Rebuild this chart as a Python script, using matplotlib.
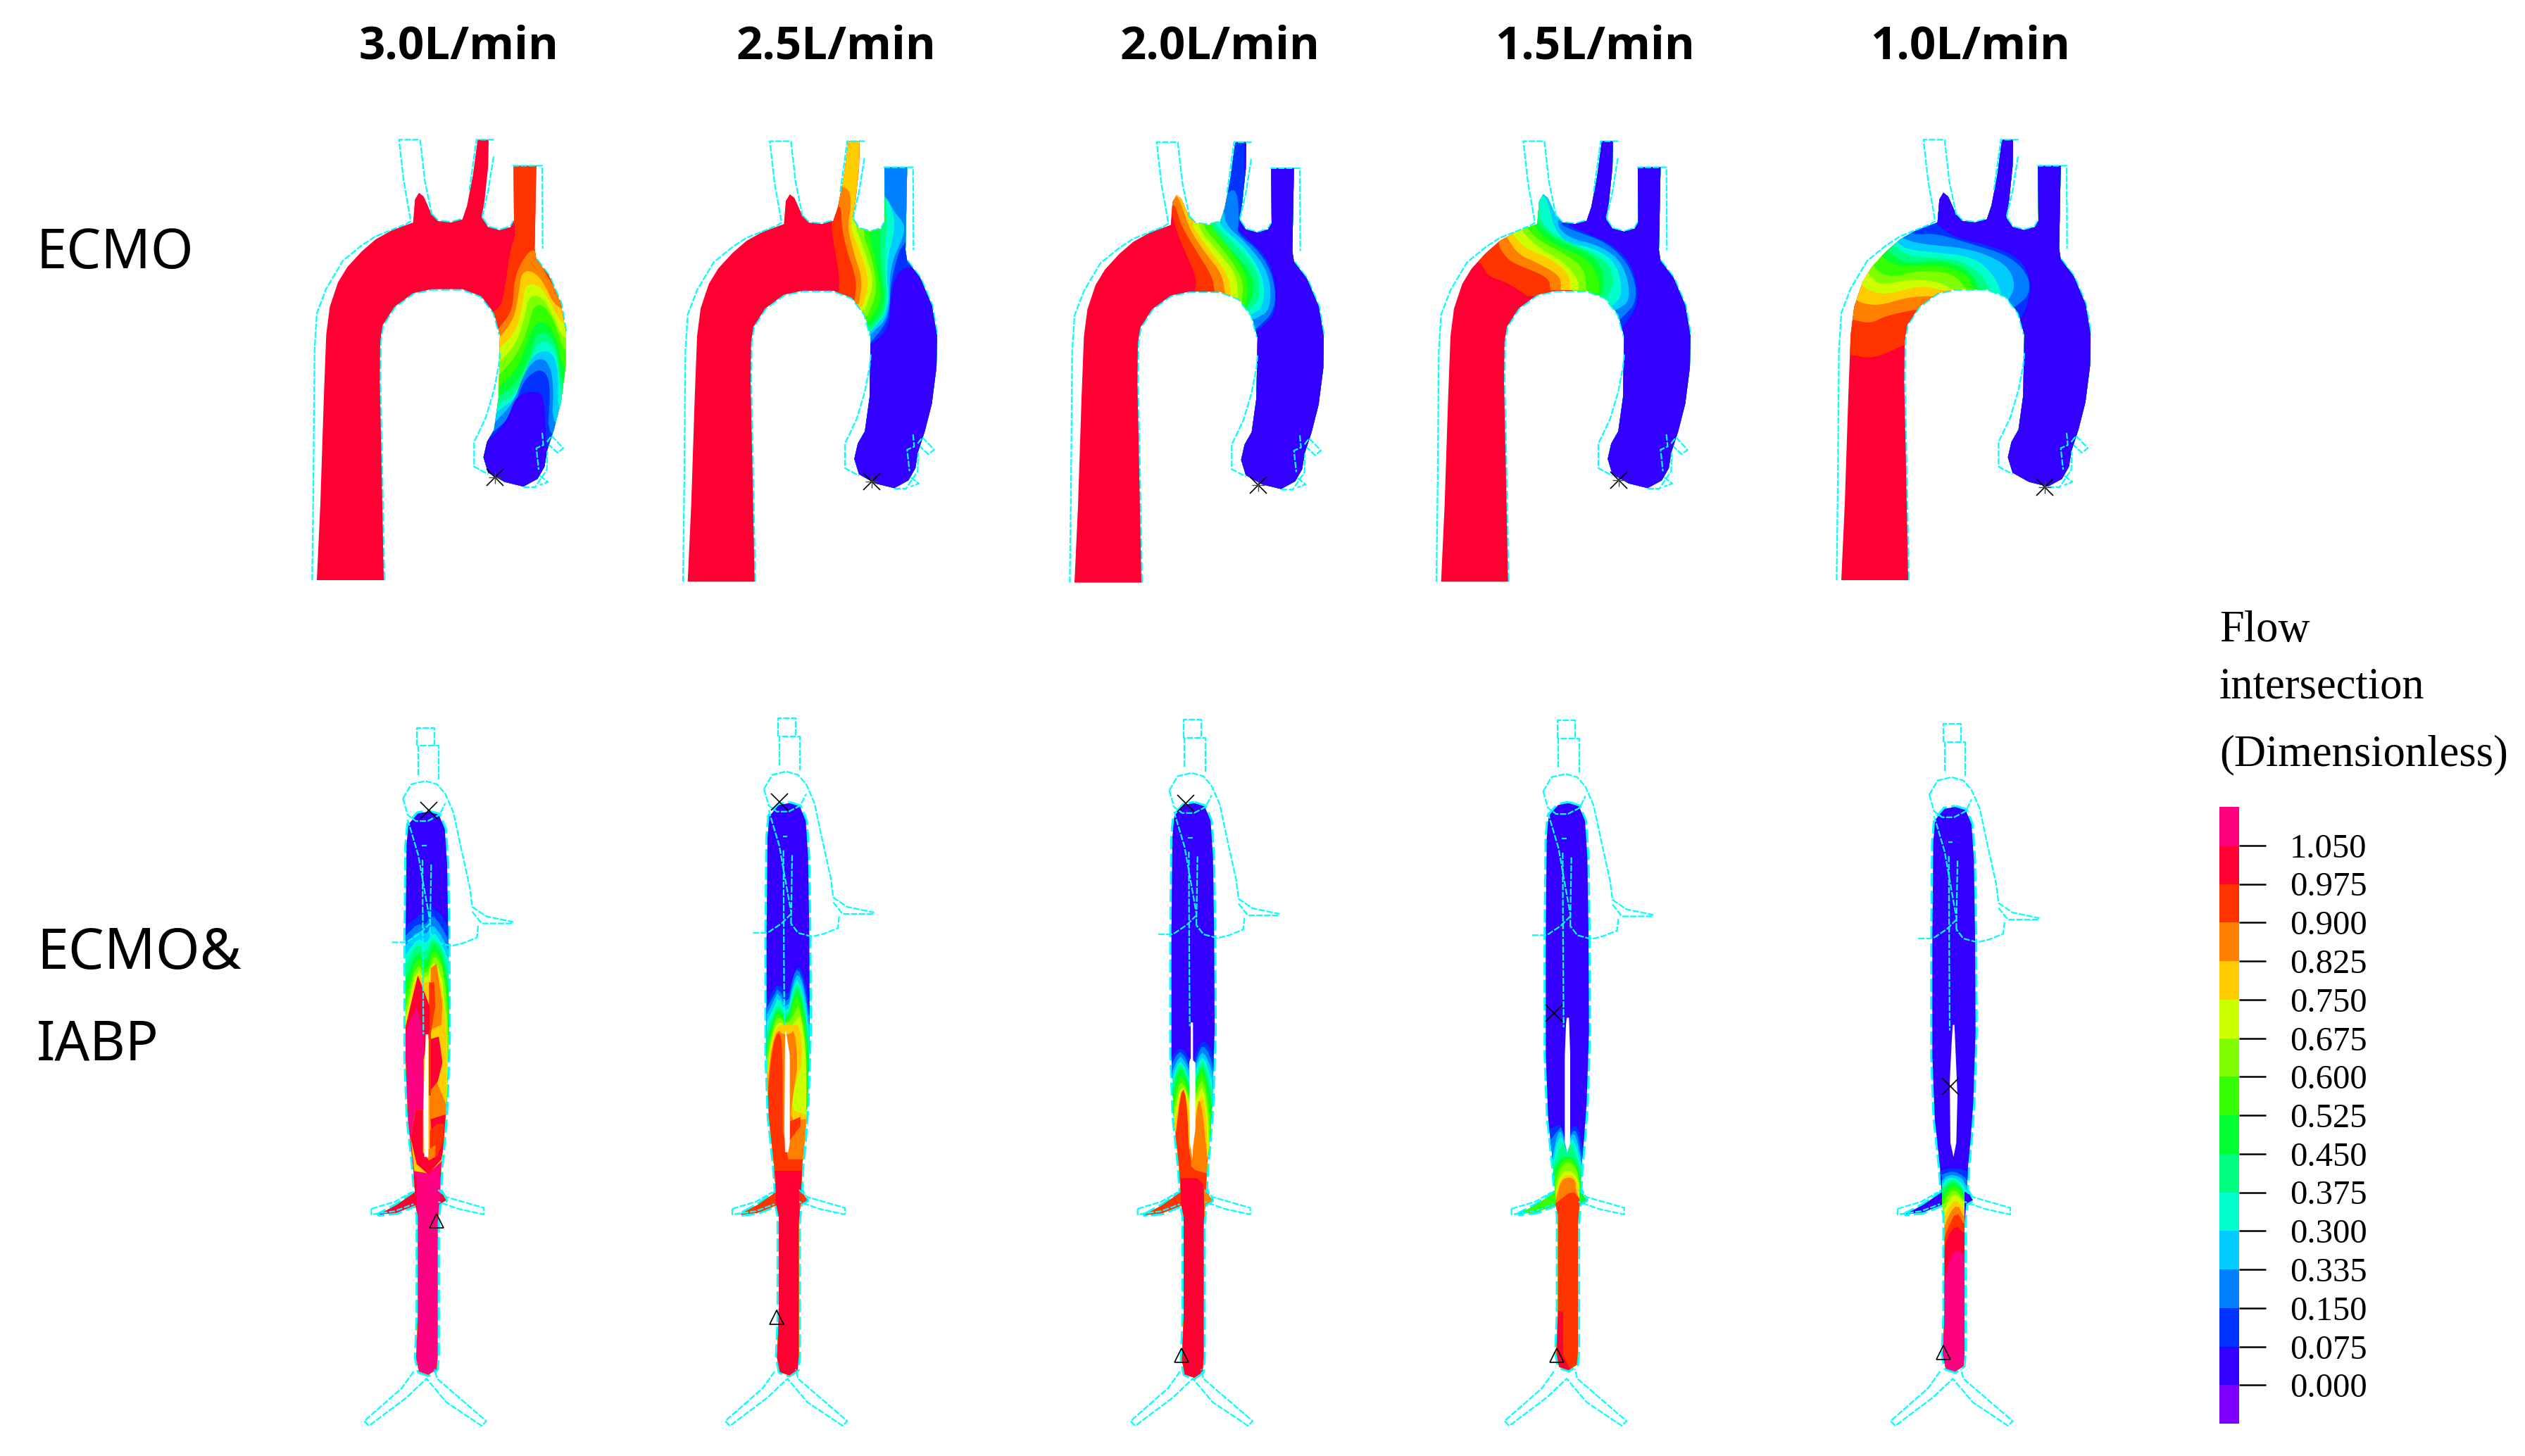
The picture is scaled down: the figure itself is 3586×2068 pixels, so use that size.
"""Flow intersection contours for ECMO and ECMO&IABP at five flow rates.

Contour shapes are traced from the figure, in the coordinates of 3x crops of each
panel, and converted to figure pixels when drawn.
"""
import matplotlib
matplotlib.use("Agg")
import matplotlib.pyplot as plt
import numpy as np
from matplotlib.colors import ListedColormap
from matplotlib.patches import Polygon

W, H = 3587, 2068
CYAN = "#00ffff"

FLOWS = ["3.0L/min", "2.5L/min", "2.0L/min", "1.5L/min", "1.0L/min"]
FLOW_X = [652, 1187, 1732, 2265, 2798]

BAND_COLORS = ["#ff0080", "#ff0033", "#ff3300", "#ff8000", "#ffcc00", "#ccff00",
               "#80ff00", "#33ff00", "#00ff33", "#00ff80", "#00ffcc", "#00ccff",
               "#0080ff", "#0033ff", "#3300ff", "#8000ff"]
LEVEL_VALUES = [1.05, 0.975, 0.9, 0.825, 0.75, 0.675, 0.6, 0.525, 0.45, 0.375, 0.3,
                0.225, 0.15, 0.075, 0.0]
LEVEL_LABELS = ["1.050", "0.975", "0.900", "0.825", "0.750", "0.675", "0.600", "0.525",
                "0.450", "0.375", "0.300", "0.335", "0.150", "0.075", "0.000"]

# ---- ECMO row ----
ARCH_CROP_X = [400, 930, 1480, 2000, 2560]
ARCH_DX = [0, -10, -12, -10, 15]
ARCH_DY = [0, 5, 8, 5, 0]

AORTA = [(150, 1500), (165, 1250), (180, 900), (190, 700), (205, 610), (240, 530), (280, 480),
         (340, 430), (400, 390), (470, 360), (560, 335), (568, 260), (585, 238), (605, 250),
         (640, 310), (665, 330), (720, 335), (770, 325), (790, 280), (815, 180), (835, 65),
         (882, 65), (880, 150), (865, 260), (853, 320), (880, 350), (930, 360), (975, 350),
         (990, 330), (988, 150), (1085, 150), (1078, 420), (1085, 455), (1140, 510), (1190, 600),
         (1212, 700), (1210, 800), (1190, 920), (1160, 1010), (1130, 1080), (1120, 1130),
         (1090, 1170), (1030, 1195), (950, 1180), (880, 1150), (860, 1100), (875, 1050),
         (905, 1010), (925, 900), (930, 700), (905, 630), (850, 575), (770, 552), (640, 552),
         (560, 565), (480, 610), (430, 670), (420, 720), (418, 850), (425, 1100), (435, 1500)]

ARCH_WIRES = [
    [(130, 1500), (135, 1200), (140, 750), (150, 630), (190, 550), (260, 460), (340, 410),
     (400, 380), (530, 340), (550, 330), (520, 200), (500, 65), (590, 65), (610, 200), (640, 310)],
    [(800, 230), (830, 65), (905, 65)],
    [(903, 120), (880, 230), (853, 320)],
    [(985, 150), (1110, 150), (1112, 420)],
    [(930, 760), (925, 800), (905, 880), (870, 970), (820, 1050), (820, 1130), (880, 1155)],
    [(1030, 1197), (1080, 1197), (1130, 1140), (1132, 1080)],
    [(1130, 1050), (1150, 1030), (1200, 1070), (1175, 1085), (1140, 1060)],
    [(1110, 1020), (1115, 1060), (1085, 1070), (1095, 1140)],
    [(1100, 1160), (1135, 1180), (1100, 1190)],
]
# cyan that only shows as a thin edge beside the filled vessel
ARCH_RIMS = [
    [(435, 1500), (425, 1100), (418, 850), (420, 720), (430, 670), (480, 610), (560, 565), (640, 552),
     (770, 552), (850, 575), (905, 630), (930, 700)],
    [(640, 310), (665, 330), (720, 335), (770, 325)],
    [(853, 320), (880, 350), (930, 360), (975, 350), (990, 330)],
    [(1085, 455), (1140, 510), (1190, 600), (1212, 700)],
]

# (band index, front from the inner wall to the outer wall); everything downstream takes the band
ECMO_FRONTS_30 = [
    (2, [(905, 625), (940, 600), (960, 500), (975, 420), (1000, 370), (980, 300), (975, 100)]),
    (3, [(925, 680), (985, 620), (990, 520), (1030, 450), (1078, 415), (1100, 470), (1180, 570), (1300, 575)]),
    (4, [(928, 710), (990, 650), (1012, 560), (1020, 500), (1060, 490), (1110, 520), (1170, 620), (1300, 630)]),
    (5, [(928, 745), (1000, 690), (1030, 590), (1035, 540), (1085, 535), (1130, 570), (1190, 670), (1300, 680)]),
    (6, [(928, 790), (1000, 730), (1040, 630), (1050, 580), (1095, 570), (1140, 610), (1200, 720), (1300, 730)]),
    (7, [(928, 830), (1000, 770), (1050, 680), (1070, 610), (1110, 600), (1160, 650), (1210, 770), (1300, 780)]),
    (8, [(928, 870), (1000, 820), (1050, 720), (1080, 660), (1130, 660), (1170, 710), (1205, 830), (1300, 840)]),
    (9, [(928, 900), (1000, 860), (1060, 770), (1080, 700), (1130, 690), (1175, 740), (1195, 880), (1300, 890)]),
    (10, [(925, 925), (1000, 890), (1060, 790), (1085, 730), (1140, 720), (1175, 770), (1190, 920), (1300, 930)]),
    (11, [(920, 950), (1010, 900), (1040, 810), (1080, 760), (1150, 750), (1180, 820), (1175, 970), (1300, 980)]),
    (12, [(910, 985), (990, 920), (1030, 830), (1080, 780), (1130, 780), (1160, 850), (1150, 1010), (1300, 1020)]),
    (13, [(905, 1015), (990, 960), (1020, 860), (1090, 810), (1135, 830), (1145, 900), (1130, 1040), (1300, 1060)]),
    (14, [(895, 1035), (960, 980), (1000, 900), (1060, 885), (1115, 890), (1125, 1000), (1125, 1090), (1300, 1100)]),
]
ECMO_FRONTS_25 = [
    (2, [(785, 560), (785, 500), (765, 420), (752, 340), (740, 200)]),
    (3, [(850, 590), (862, 525), (815, 420), (795, 340), (795, 290), (780, 280), (740, 270), (740, 100)]),
    (4, [(870, 600), (885, 520), (850, 440), (820, 350), (835, 290), (833, 235), (800, 215), (740, 215), (740, 100)]),
    (5, [(885, 610), (915, 530), (880, 440), (830, 345), (850, 300), (900, 300)]),
    (6, [(895, 620), (935, 530), (900, 440), (860, 360), (855, 330), (900, 300)]),
    (7, [(905, 640), (950, 560), (925, 450), (885, 370), (900, 300)]),
    (8, [(915, 655), (970, 590), (945, 470), (910, 370), (920, 300)]),
    (9, [(920, 670), (985, 610), (960, 470), (960, 365), (960, 300)]),
    (10, [(920, 685), (995, 620), (975, 430), (990, 350), (985, 300)]),
    (11, [(920, 690), (1000, 620), (985, 470), (1020, 370), (1020, 310), (985, 250), (960, 260)]),
    (12, [(920, 700), (1000, 640), (1000, 480), (1060, 380), (1065, 340), (1020, 300), (985, 250), (960, 240)]),
    (13, [(920, 725), (960, 690), (1000, 640), (1005, 520), (1065, 370), (1300, 370)]),
    (14, [(925, 730), (1000, 680), (1005, 560), (1040, 490), (1085, 480), (1300, 480)]),
]
ECMO_FRONTS_20 = [
    (2, [(650, 558), (660, 520), (610, 430), (570, 360), (555, 305), (530, 300)]),
    (3, [(735, 560), (725, 510), (650, 420), (590, 340), (570, 285), (555, 275), (530, 275)]),
    (4, [(780, 565), (765, 500), (700, 440), (630, 360), (600, 290), (575, 245), (530, 240)]),
    (5, [(805, 575), (795, 510), (730, 440), (660, 370), (635, 335), (680, 300)]),
    (6, [(835, 590), (830, 505), (750, 430), (660, 350), (680, 300)]),
    (7, [(850, 600), (860, 520), (770, 420), (680, 345), (700, 300)]),
    (8, [(865, 605), (885, 530), (820, 440), (720, 350), (720, 300)]),
    (9, [(870, 610), (905, 570), (895, 500), (800, 420), (710, 340), (720, 300)]),
    (10, [(880, 620), (925, 590), (925, 500), (840, 420), (730, 340), (740, 300)]),
    (11, [(890, 635), (945, 610), (945, 510), (860, 410), (760, 350), (745, 300)]),
    (12, [(905, 650), (975, 620), (970, 500), (870, 400), (790, 350), (770, 300), (765, 100)]),
    (13, [(915, 680), (995, 620), (990, 520), (930, 430), (830, 370), (838, 340), (835, 250), (815, 225),
          (790, 240), (765, 240)]),
    (14, [(915, 690), (1000, 630), (990, 510), (950, 440), (870, 385), (835, 360), (840, 340), (855, 260), (862, 200)]),
]
ECMO_FRONTS_15 = [
    (2, [(510, 575), (420, 530), (340, 510), (320, 480), (300, 465), (280, 440)]),
    (3, [(605, 555), (600, 515), (490, 480), (430, 460), (390, 420), (385, 395), (370, 370)]),
    (4, [(650, 555), (650, 510), (560, 470), (470, 440), (420, 385), (405, 350)]),
    (5, [(690, 555), (685, 500), (600, 450), (500, 420), (450, 380), (430, 350)]),
    (6, [(725, 555), (725, 520), (660, 460), (560, 420), (490, 370), (470, 330)]),
    (7, [(760, 557), (750, 480), (650, 430), (570, 400), (510, 360), (500, 330)]),
    (8, [(815, 565), (810, 500), (740, 440), (640, 415), (560, 370), (530, 335), (520, 320)]),
    (9, [(825, 570), (840, 510), (790, 440), (650, 400), (580, 360), (550, 330), (540, 320)]),
    (10, [(845, 580), (880, 530), (850, 460), (720, 410), (610, 370), (565, 330), (555, 300)]),
    (11, [(870, 605), (915, 570), (890, 470), (800, 420), (670, 400), (620, 350), (600, 280), (580, 245), (540, 240)]),
    (12, [(885, 620), (950, 590), (920, 470), (820, 410), (680, 385), (625, 335), (680, 300)]),
    (13, [(905, 650), (980, 590), (950, 480), (850, 400), (700, 360), (640, 338), (690, 300)]),
    (14, [(910, 680), (985, 600), (960, 480), (880, 410), (760, 370), (670, 340), (700, 300)]),
]
ECMO_FRONTS_10 = [
    (2, [(430, 735), (300, 780), (200, 765), (150, 765)]),
    (3, [(470, 620), (350, 640), (290, 665), (210, 650), (170, 650)]),
    (4, [(520, 575), (440, 580), (330, 605), (260, 600), (225, 585), (190, 585)]),
    (5, [(590, 555), (500, 540), (360, 570), (290, 560), (250, 535), (220, 530)]),
    (6, [(640, 553), (570, 525), (450, 520), (330, 540), (290, 510), (270, 490)]),
    (7, [(700, 553), (640, 500), (500, 490), (380, 515), (310, 490), (300, 465)]),
    (8, [(730, 555), (700, 500), (570, 470), (400, 480), (330, 440), (310, 430)]),
    (9, [(755, 555), (720, 495), (600, 455), (450, 470), (380, 440), (350, 410)]),
    (10, [(800, 557), (760, 500), (650, 450), (480, 450), (400, 420), (370, 400)]),
    (11, [(850, 575), (820, 510), (730, 445), (530, 430), (430, 420), (390, 385)]),
    (12, [(875, 590), (910, 540), (870, 470), (720, 420), (500, 405), (420, 385), (410, 370)]),
    (13, [(905, 610), (970, 570), (960, 500), (870, 440), (720, 405), (570, 370), (470, 375), (450, 360)]),
    (14, [(930, 650), (960, 600), (975, 530), (930, 450), (800, 410), (650, 385), (570, 340), (520, 300)]),
]
ECMO_FRONTS = [ECMO_FRONTS_30, ECMO_FRONTS_25, ECMO_FRONTS_20, ECMO_FRONTS_15, ECMO_FRONTS_10]
ECMO_STARS = [(910, 1165), (925, 1180), (922, 1190), (898, 1175), (1033, 1197)]

# ---- ECMO&IABP row ----
IABP_CROP_X = [480, 990, 1565, 2100, 2645]
IABP_DX = [0, 8, 8, -2, 10]
IABP_TOP = [228, 210, 210, 210, 218]
IABP_BOTTOM = [1422, 1423, 1428, 1412, 1415]

BODY = [(385, 228), (430, 235), (455, 265), (465, 340), (470, 500), (472, 700), (462, 850), (450, 930),
        (440, 980), (435, 1030), (460, 1052), (432, 1060), (425, 1100), (425, 1380), (420, 1410),
        (385, 1422), (345, 1415), (333, 1385), (340, 1300), (340, 1085), (330, 1062), (250, 1078),
        (175, 1082), (250, 1062), (328, 1035), (320, 980), (298, 880), (288, 750), (288, 500),
        (292, 300), (300, 255), (340, 232)]

IABP_WIRES = [
    [(345, 68), (345, 30), (420, 30), (420, 68)],
    [(350, 130), (350, 68), (438, 68), (438, 140)],
    [(285, 180), (320, 150), (380, 143), (430, 150), (465, 170), (500, 210), (530, 280), (570, 370),
     (580, 410), (640, 430), (755, 442)],
    [(285, 180), (305, 215), (340, 228), (390, 228), (440, 215), (465, 190)],
    [(580, 420), (620, 445), (700, 445), (750, 445)],
    [(605, 450), (600, 475), (540, 487), (490, 493), (430, 485), (400, 465)],
    [(238, 485), (300, 485), (360, 465), (400, 445)],
    [(368, 310), (370, 540), (372, 680)],
    [(405, 320), (400, 470)],
    [(305, 225), (350, 300), (400, 440)],
    [(365, 280), (385, 280)],
]
IABP_WIRE_DX = [-8, 0, 2, -10, 0]
IABP_WIRE_DY = [20, 0, 3, 5, 12]
LEG_WIRES = [
    [(150, 1070), (250, 1055), (320, 1035)],
    [(150, 1070), (150, 1082), (250, 1075), (330, 1060)],
    [(435, 1030), (470, 1045), (630, 1068), (630, 1082), (520, 1070), (435, 1055)],
    [(330, 1415), (280, 1450), (120, 1520), (140, 1530), (300, 1470), (385, 1430), (470, 1480),
     (620, 1530), (640, 1520), (430, 1430), (420, 1410)],
]
IABP_SLITS = [
    [(374, 700), (385, 700), (385, 960), (368, 960), (364, 850), (368, 780)],
    [(378, 690), (395, 745), (395, 930), (388, 950), (375, 950), (372, 900), (375, 700)],
    [(378, 675), (388, 675), (388, 755), (398, 760), (398, 900), (388, 940), (385, 965), (375, 930),
     (372, 760), (378, 750)],
    [(375, 665), (385, 665), (390, 745), (390, 930), (378, 950), (367, 930), (367, 745), (372, 680)],
    [(385, 680), (392, 680), (405, 830), (400, 930), (388, 960), (375, 930), (372, 800), (380, 720)],
]

# (band index, front from left to right); everything below it takes the band
IABP_FRONTS_30 = [
    (13, [(290, 470), (340, 450), (385, 430), (430, 440), (470, 470)]),
    (12, [(290, 490), (340, 465), (370, 470), (400, 445), (440, 470), (470, 500)]),
    (11, [(290, 510), (340, 480), (375, 490), (400, 465), (440, 490), (470, 520)]),
    (10, [(290, 530), (340, 495), (375, 510), (405, 480), (445, 510), (470, 540)]),
    (9, [(290, 550), (340, 505), (375, 530), (405, 490), (445, 520), (470, 560)]),
    (8, [(290, 580), (340, 520), (375, 550), (405, 500), (445, 530), (470, 600)]),
    (7, [(290, 610), (340, 530), (375, 570), (405, 515), (450, 550), (470, 640)]),
    (6, [(290, 640), (335, 545), (375, 580), (410, 525), (455, 570), (470, 700)]),
    (5, [(290, 660), (335, 555), (375, 590), (410, 535), (455, 600), (475, 850)]),
    (4, [(290, 680), (335, 565), (385, 600), (415, 540), (450, 620), (465, 720), (460, 860)]),
]
IABP_PATCHES_30 = [
    (3, [(395, 560), (420, 550), (445, 640), (440, 680), (395, 690)]),
    (2, [(388, 590), (410, 590), (415, 640), (395, 700), (388, 700)]),
    (1, [(285, 690), (340, 575), (390, 640), (390, 700), (360, 760), (285, 760)]),
    (0, [(285, 700), (335, 640), (365, 700), (365, 860), (330, 860), (310, 920), (325, 990), (385, 995),
         (440, 970), (480, 960), (480, 1500), (200, 1500), (200, 1000), (280, 900)]),
    (3, [(390, 820), (420, 800), (462, 850), (455, 900), (400, 960), (390, 960)]),
    (1, [(330, 860), (362, 860), (362, 950), (385, 965), (400, 930), (395, 880), (460, 870), (455, 930),
         (440, 965), (385, 997), (335, 975), (310, 920)]),
    (2, [(392, 905), (420, 890), (452, 890), (448, 930), (420, 960), (392, 940)]),
    (3, [(385, 945), (415, 935), (415, 960), (385, 968)]),
    (1, [(395, 710), (430, 705), (445, 760), (425, 800), (392, 820)]),
    (2, [(388, 700), (396, 700), (396, 830), (388, 830)]),
    (1, [(100, 1000), (335, 1000), (335, 1100), (100, 1100)]),
    (1, [(434, 1038), (600, 1038), (600, 1100), (434, 1100)]),
]
IABP_FRONTS_25 = [
    (13, [(290, 640), (320, 610), (345, 590), (385, 620), (400, 590), (430, 550), (460, 580), (478, 640)]),
    (12, [(290, 650), (325, 620), (345, 600), (385, 640), (410, 575), (430, 560), (455, 590), (478, 660)]),
    (11, [(290, 665), (330, 625), (345, 610), (385, 650), (410, 590), (430, 570), (455, 600), (478, 680)]),
    (10, [(290, 680), (330, 640), (345, 620), (385, 660), (410, 600), (430, 580), (460, 630), (478, 710)]),
    (9, [(290, 700), (325, 660), (345, 635), (385, 665), (410, 610), (430, 590), (460, 640), (478, 730)]),
    (8, [(290, 725), (325, 665), (345, 645), (385, 670), (412, 620), (430, 600), (460, 660), (478, 760)]),
    (7, [(290, 745), (322, 680), (345, 650), (385, 680), (412, 630), (430, 615), (465, 690), (470, 800), (475, 870)]),
    (6, [(295, 760), (320, 690), (345, 660), (385, 680), (415, 655), (435, 635), (465, 730), (465, 800), (465, 860)]),
    (5, [(295, 785), (318, 705), (345, 670), (395, 690), (420, 670), (445, 660), (465, 750), (465, 860)]),
    (4, [(298, 790), (320, 710), (345, 680), (395, 680), (440, 680), (450, 760), (420, 800), (400, 860), (460, 870)]),
    (3, [(300, 805), (320, 720), (345, 690), (365, 700), (395, 700), (415, 690), (430, 760), (410, 825), (395, 885), (460, 880)]),
    (2, [(300, 830), (320, 730), (345, 690), (365, 720), (365, 965), (460, 965)]),
    (1, [(300, 990), (460, 990)]),
]
IABP_PATCHES_25 = [
    (2, [(395, 885), (440, 875), (440, 895), (395, 925)]),
    (2, [(100, 1000), (335, 1000), (335, 1100), (100, 1100)]),
    (2, [(434, 1035), (600, 1035), (600, 1100), (434, 1100)]),
]
IABP_FRONTS_20 = [
    (13, [(292, 755), (315, 735), (340, 728), (365, 745), (385, 760), (410, 730), (430, 712), (460, 725), (482, 760)]),
    (12, [(292, 770), (315, 745), (340, 735), (385, 780), (410, 740), (430, 722), (462, 745), (482, 790)]),
    (11, [(295, 785), (320, 755), (340, 745), (385, 790), (410, 750), (432, 735), (465, 770), (480, 805)]),
    (10, [(297, 800), (320, 765), (340, 755), (385, 810), (410, 760), (432, 745), (465, 790), (478, 825)]),
    (9, [(298, 815), (320, 770), (340, 762), (385, 820), (410, 770), (432, 755), (465, 810), (475, 850)]),
    (8, [(300, 830), (322, 780), (342, 770), (385, 830), (410, 780), (432, 765), (462, 830), (472, 870)]),
    (7, [(302, 845), (322, 800), (342, 785), (385, 840), (410, 790), (432, 775), (460, 850), (465, 890)]),
    (6, [(305, 860), (325, 810), (345, 800), (385, 850), (410, 810), (432, 795), (455, 860), (460, 910)]),
    (5, [(308, 875), (328, 820), (350, 810), (385, 860), (410, 825), (432, 810), (452, 880), (455, 930)]),
    (4, [(312, 885), (332, 825), (352, 815), (385, 900), (405, 850), (430, 825), (445, 880), (450, 950)]),
    (3, [(315, 905), (335, 830), (352, 815), (365, 900), (375, 960), (405, 860), (415, 835), (430, 870), (440, 920), (448, 960)]),
    (2, [(315, 910), (335, 825), (352, 815), (365, 870), (370, 950), (380, 965), (380, 985), (445, 995)]),
    (1, [(335, 1005), (430, 1005), (435, 1060)]),
]
IABP_PATCHES_20 = [
    (2, [(100, 1000), (335, 1000), (335, 1100), (100, 1100)]),
    (3, [(436, 1030), (600, 1030), (600, 1100), (436, 1100)]),
]
IABP_FRONTS_15 = [
    (13, [(300, 900), (330, 895), (350, 890), (375, 935), (395, 895), (425, 895), (445, 945)]),
    (12, [(305, 925), (335, 905), (355, 895), (375, 945), (395, 905), (420, 905), (440, 960)]),
    (11, [(315, 960), (335, 910), (355, 905), (375, 950), (395, 910), (415, 915), (438, 970)]),
    (10, [(320, 965), (335, 925), (355, 915), (375, 955), (395, 920), (412, 930), (435, 975)]),
    (9, [(322, 975), (345, 945), (360, 925), (375, 958), (390, 930), (405, 945), (432, 980)]),
    (8, [(325, 985), (345, 965), (375, 958), (410, 965), (435, 1000)]),
    (7, [(325, 1000), (345, 975), (380, 960), (415, 975), (435, 1020)]),
    (6, [(328, 1015), (345, 985), (380, 968), (420, 985), (432, 1030)]),
    (5, [(330, 1030), (345, 1000), (380, 985), (425, 1005), (430, 1040)]),
    (4, [(330, 1040), (345, 1010), (385, 995), (420, 1010), (425, 1045)]),
    (3, [(330, 1050), (350, 1010), (385, 1002), (413, 1010), (413, 1030), (430, 1050)]),
    (2, [(330, 1058), (400, 1030), (430, 1050)]),
]
IABP_PATCHES_15 = [
    (1, [(335, 1285), (360, 1290), (360, 1380), (390, 1412), (335, 1412)]),
    (7, [(100, 1000), (328, 1000), (328, 1100), (100, 1100)]),
    (8, [(430, 1030), (600, 1030), (600, 1100), (430, 1100)]),
]
IABP_FRONTS_10 = [
    (13, [(330, 990), (360, 985), (390, 985), (425, 985), (445, 990)]),
    (12, [(330, 1000), (350, 995), (390, 990), (430, 1000), (445, 1010)]),
    (11, [(340, 1010), (360, 1000), (390, 998), (425, 1005), (440, 1020)]),
    (10, [(340, 1020), (360, 1005), (390, 1003), (425, 1015), (440, 1030)]),
    (9, [(343, 1025), (370, 1010), (395, 1008), (420, 1020), (435, 1040)]),
    (8, [(345, 1035), (370, 1015), (400, 1015), (425, 1030), (435, 1045)]),
    (7, [(345, 1045), (370, 1025), (400, 1020), (428, 1040), (435, 1050)]),
    (6, [(345, 1060), (370, 1035), (400, 1030), (428, 1050)]),
    (5, [(345, 1075), (375, 1045), (400, 1038), (430, 1055)]),
    (4, [(345, 1090), (375, 1060), (400, 1050), (430, 1070)]),
    (3, [(345, 1115), (370, 1080), (405, 1060), (430, 1085)]),
    (2, [(345, 1140), (360, 1115), (400, 1075), (430, 1100)]),
    (1, [(345, 1170), (360, 1130), (400, 1105), (430, 1120)]),
    (0, [(345, 1240), (360, 1200), (390, 1155), (430, 1165)]),
]
IABP_PATCHES_10 = [
    (14, [(100, 1000), (338, 1000), (338, 1100), (100, 1100)]),
    (14, [(436, 1035), (600, 1035), (600, 1100), (436, 1100)]),
]
IABP_FRONTS = [IABP_FRONTS_30, IABP_FRONTS_25, IABP_FRONTS_20, IABP_FRONTS_15, IABP_FRONTS_10]
IABP_PATCHES = [IABP_PATCHES_30, IABP_PATCHES_25, IABP_PATCHES_20, IABP_PATCHES_15, IABP_PATCHES_10]
IABP_STARS = [(388, 225), (350, 208), (358, 210), (320, 655), (375, 810)]
IABP_TRIANGLES = [(420, 1095), (340, 1300), (340, 1380), (333, 1380), (345, 1375)]


def arch_px(pts, crop_x, dx=0, dy=0):
    a = np.asarray(pts, dtype=float)
    return np.column_stack([crop_x + (a[:, 0] + dx) / 3, 170 + (a[:, 1] + dy) * 0.436])


def iabp_px(pts, crop_x, dx=0, dy=0):
    a = np.asarray(pts, dtype=float)
    return np.column_stack([crop_x + (a[:, 0] + dx) / 3, 1000 + (a[:, 1] + dy) * 0.67])


def smooth(pts, rounds=2):
    """Corner cutting, so the traced fronts read as contours and not as polylines."""
    a = np.asarray(pts, dtype=float)
    for _ in range(rounds):
        q = 0.75 * a[:-1] + 0.25 * a[1:]
        r = 0.25 * a[:-1] + 0.75 * a[1:]
        a = np.vstack([a[:1], np.column_stack([q, r]).reshape(-1, 2), a[-1:]])
    return a


def downstream(front):
    x0, y0 = front[0]
    xl, yl = front[-1]
    if xl > 1000:
        tail = [(1600, yl), (1600, 1700), (700, 1700), (700, y0)]
    else:
        tail = [(xl, -100), (1600, -100), (1600, 1700), (700, 1700), (700, y0)]
    return np.vstack([smooth(front), tail])


def below(front):
    return np.vstack([[(200, front[0][1])], smooth(front, 1),
                      [(600, front[-1][1]), (600, 1500), (200, 1500)]])


def draw_wire(ax, xy):
    ax.plot(xy[:, 0], xy[:, 1], color=CYAN, lw=1.6, ls=(0, (4, 1)), zorder=4)


def draw_rim(ax, xy, lw):
    ax.plot(xy[:, 0], xy[:, 1], color=CYAN, lw=lw, ls=(0, (3, 1)), zorder=1)


def draw_vessel(ax, outline, base):
    body = Polygon(outline, closed=True, fc=BAND_COLORS[base], ec="none", zorder=2)
    ax.add_patch(body)
    return body


def draw_band(ax, xy, band, clip):
    p = Polygon(xy, closed=True, fc=BAND_COLORS[band], ec="none", zorder=3)
    ax.add_patch(p)
    p.set_clip_path(clip)


fig = plt.figure(figsize=(W / 100, H / 100), dpi=100)
ax = fig.add_axes([0, 0, 1, 1])
ax.set_xlim(0, W)
ax.set_ylim(H, 0)
ax.axis("off")

for i, label in enumerate(FLOWS):
    ax.text(FLOW_X[i], 67, label, ha="center", va="center", fontsize=47, fontweight="bold",
            family="Open Sans")
ax.text(52, 361, "ECMO", ha="left", va="center", fontsize=56, family="Noto Sans")
ax.text(52, 1355, "ECMO&", ha="left", va="center", fontsize=58, family="Noto Sans")
ax.text(52, 1485, "IABP", ha="left", va="center", fontsize=56, family="Noto Sans")

for i in range(5):
    cx, dx, dy = ARCH_CROP_X[i], ARCH_DX[i], ARCH_DY[i]
    for rim in ARCH_RIMS:
        draw_rim(ax, arch_px(rim, cx, dx, dy), 3.0)
    body = draw_vessel(ax, arch_px(AORTA, cx, dx, dy), 1)
    for band, front in ECMO_FRONTS[i]:
        draw_band(ax, arch_px(downstream(front), cx), band, body)
    for wire in ARCH_WIRES:
        draw_wire(ax, arch_px(wire, cx, dx, dy))
    star = arch_px([ECMO_STARS[i]], cx)
    ax.plot(star[:, 0], star[:, 1], "x", color="black", ms=17, mew=1.2, zorder=5)
    ax.plot(star[:, 0], star[:, 1], "+", color="#444444", ms=13, mew=1.0, zorder=5)

for i in range(5):
    cx, dx = IABP_CROP_X[i], IABP_DX[i]
    wdx, wdy = IABP_WIRE_DX[i], IABP_WIRE_DY[i]
    shape = np.asarray(BODY, dtype=float)
    shape[:, 1] = np.interp(shape[:, 1], [228, 1030, 1422], [IABP_TOP[i], 1030, IABP_BOTTOM[i]])
    outline = iabp_px(shape, cx, dx)
    draw_rim(ax, np.vstack([outline, outline[:1]]), 4.5)
    body = draw_vessel(ax, outline, 14)
    for band, front in IABP_FRONTS[i]:
        draw_band(ax, iabp_px(below(front), cx), band, body)
    for band, patch in IABP_PATCHES[i]:
        draw_band(ax, iabp_px(patch, cx), band, body)
    ax.add_patch(Polygon(iabp_px(IABP_SLITS[i], cx), closed=True, fc="white", ec="none", zorder=3.5))
    for wire in IABP_WIRES:
        draw_wire(ax, iabp_px(wire, cx, wdx, wdy))
    for wire in LEG_WIRES:
        draw_wire(ax, iabp_px(wire, cx, wdx))
    star = iabp_px([IABP_STARS[i]], cx)
    ax.plot(star[:, 0], star[:, 1], "x", color="black", ms=17, mew=1.2, zorder=5)
    tri = iabp_px([IABP_TRIANGLES[i]], cx)
    ax.plot(tri[:, 0], tri[:, 1], "^", mfc="none", mec="black", ms=15, mew=1.2, zorder=5)

ax.text(3152, 896, "Flow", ha="left", va="center", fontsize=45, family="Liberation Serif")
ax.text(3152, 976, "intersection", ha="left", va="center", fontsize=45, family="Liberation Serif")
ax.text(3152, 1072, "(Dimensionless)", ha="left", va="center", fontsize=45, family="Liberation Serif")

# legend bar: one band per interval, outer bands extend a step past the labelled range
cax = fig.add_axes([3152 / W, 1 - 2022 / H, 28 / W, (2022 - 1146) / H])
step = LEVEL_VALUES[0] - LEVEL_VALUES[1]
edges = np.array([LEVEL_VALUES[0] + step] + LEVEL_VALUES + [LEVEL_VALUES[-1] - step])
cax.pcolormesh([0, 1], edges, np.arange(16)[:, None], cmap=ListedColormap(BAND_COLORS),
               vmin=-0.5, vmax=15.5)
cax.set_xticks([])
cax.yaxis.tick_right()
cax.set_yticks(LEVEL_VALUES)
cax.set_yticklabels(LEVEL_LABELS, family="Liberation Serif", fontsize=35)
cax.tick_params(axis="y", length=27, width=1.8, pad=25)
cax.set_ylim(edges[-1], edges[0])
for s in cax.spines.values():
    s.set_visible(False)

fig.savefig("out.png", dpi=100, facecolor="white")
